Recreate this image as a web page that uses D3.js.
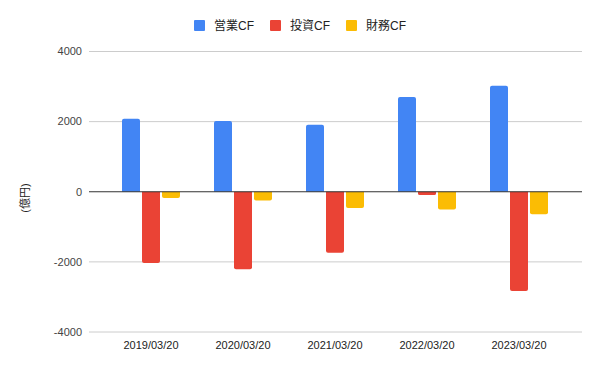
<!DOCTYPE html>
<html>
<head>
  <meta charset="UTF-8">
  <style>
    body { margin: 0; background: white; }
    text { font-family: "Liberation Sans", Arial, "Noto Sans CJK JP", sans-serif; }
  </style>
</head>
<body>
<svg></svg>
<script src="https://d3js.org/d3.v7.min.js"></script>
<script>

let width = 600, height = 371;

// data
const years = ["2019/03/20", "2020/03/20", "2021/03/20", "2022/03/20", "2023/03/20"];
const seriesNames = ["営業CF", "投資CF", "財務CF"];
const colors = ["#4285F4", "#EA4335", "#FBBC04"];
const eigyo = [2080, 2020, 1910, 2705, 3020];
const toshi = [-2030, -2210, -1740, -95, -2830];
const zaimu = [-180, -250, -465, -505, -645];
const yTicks = [-4000, -2000, 0, 2000, 4000];

const values = [eigyo, toshi, zaimu];

let svg = d3.select("svg")
    .attr("width", width)
    .attr("height", height);

let plotLeft = 89, plotRight = 582;

let y = d3.scaleLinear().domain([-4000, 4000]).range([332, 51.5]);

let x = d3.scaleBand().domain(years).range([105, 565]).paddingInner(0).paddingOuter(0);
let inner = d3.scaleBand().domain(seriesNames).range([17, 75]).paddingInner(0.1);

// gridlines
svg.append("g").selectAll("line")
    .data(yTicks.filter(d => d !== 0))
    .enter().append("line")
    .attr("x1", plotLeft).attr("x2", plotRight)
    .attr("y1", d => y(d)).attr("y2", d => y(d))
    .attr("stroke", "#cccccc").attr("stroke-width", 1);

// y tick labels
svg.append("g").selectAll("text")
    .data(yTicks)
    .enter().append("text")
    .attr("x", 82).attr("y", d => y(d))
    .attr("dy", "0.35em")
    .attr("text-anchor", "end")
    .attr("font-size", 11)
    .attr("fill", "#444")
    .text(d => d);

// bars (rounded only at the far end)
function barPath(x0, w, v) {
    let r = 2;
    let y0 = y(0), y1 = y(v);
    if (Math.abs(y1 - y0) < r * 2) r = Math.abs(y1 - y0) / 2;
    if (v >= 0) {
        return `M${x0},${y0}V${y1 + r}Q${x0},${y1} ${x0 + r},${y1}H${x0 + w - r}Q${x0 + w},${y1} ${x0 + w},${y1 + r}V${y0}Z`;
    } else {
        return `M${x0},${y0}V${y1 - r}Q${x0},${y1} ${x0 + r},${y1}H${x0 + w - r}Q${x0 + w},${y1} ${x0 + w},${y1 - r}V${y0}Z`;
    }
}

seriesNames.forEach((name, si) => {
    svg.append("g").selectAll("path")
        .data(values[si])
        .enter().append("path")
        .attr("d", (d, i) => barPath(x(years[i]) + inner(name), inner.bandwidth(), d))
        .attr("fill", colors[si]);
});

// zero line
svg.append("line")
    .attr("x1", plotLeft).attr("x2", plotRight)
    .attr("y1", y(0)).attr("y2", y(0))
    .attr("stroke", "#333").attr("stroke-width", 1);

// x labels
svg.append("g").selectAll("text")
    .data(years)
    .enter().append("text")
    .attr("x", d => x(d) + x.bandwidth() / 2)
    .attr("y", 349)
    .attr("text-anchor", "middle")
    .attr("font-size", 11)
    .attr("fill", "#222")
    .text(d => d);

// y axis title
svg.append("text")
    .attr("transform", "translate(29,198) rotate(-90)")
    .attr("text-anchor", "middle")
    .attr("font-size", 11)
    .attr("fill", "#222")
    .text("(億円)");

// legend
const legendX = [194, 270, 346];
let legend = svg.append("g").selectAll("g")
    .data(seriesNames)
    .enter().append("g")
    .attr("transform", (d, i) => `translate(${legendX[i]},20)`);
legend.append("rect")
    .attr("width", 11).attr("height", 11)
    .attr("rx", 1)
    .attr("fill", (d, i) => colors[i]);
legend.append("text")
    .attr("x", 20).attr("y", 6)
    .attr("dy", "0.35em")
    .attr("font-size", 12)
    .attr("fill", "#222")
    .text(d => d);

</script>
</body>
</html>
